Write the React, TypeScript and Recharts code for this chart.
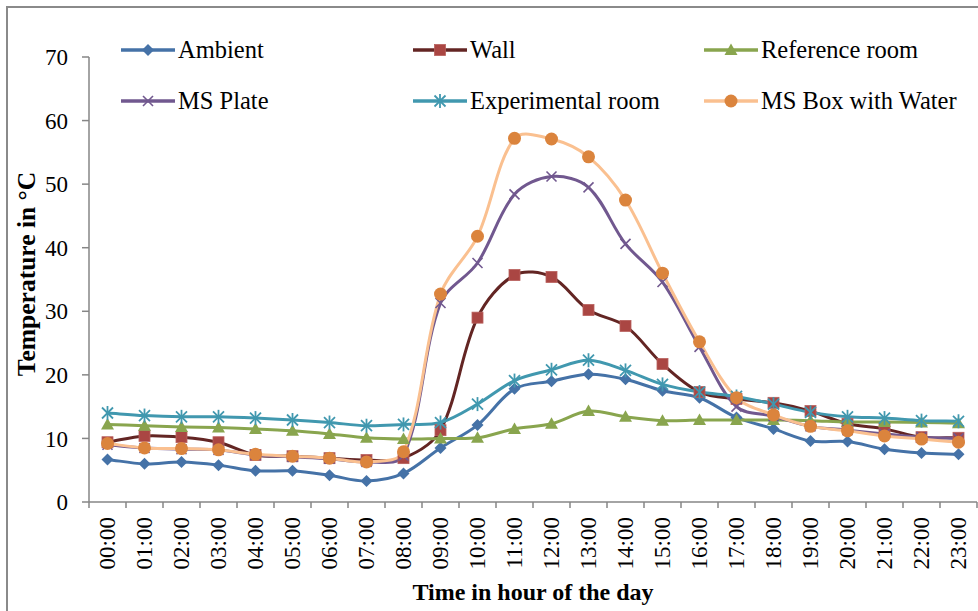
import React from "react";
import { LineChart, Line, XAxis, YAxis, Legend } from "recharts";

const hours = [
  "00:00", "01:00", "02:00", "03:00", "04:00", "05:00", "06:00", "07:00",
  "08:00", "09:00", "10:00", "11:00", "12:00", "13:00", "14:00", "15:00",
  "16:00", "17:00", "18:00", "19:00", "20:00", "21:00", "22:00", "23:00",
];
const ambient = [6.7, 6.0, 6.3, 5.8, 4.9, 4.9, 4.2, 3.3, 4.5, 8.5, 12.1, 17.8, 19.0, 20.1, 19.3, 17.5, 16.4, 13.3, 11.5, 9.6, 9.5, 8.3, 7.7, 7.5];
const wall = [9.4, 10.4, 10.2, 9.4, 7.4, 7.2, 6.9, 6.6, 6.9, 11.3, 29.0, 35.7, 35.4, 30.2, 27.7, 21.7, 17.3, 16.2, 15.6, 14.3, 12.3, 11.5, 10.2, 10.1];
const referenceRoom = [12.2, 12.0, 11.8, 11.7, 11.5, 11.2, 10.7, 10.1, 9.9, 10.0, 10.1, 11.5, 12.3, 14.3, 13.4, 12.8, 12.9, 12.9, 12.9, 12.8, 12.6, 12.6, 12.5, 12.4];
const msPlate = [9.0, 8.5, 8.3, 8.2, 7.4, 7.1, 6.8, 6.3, 7.3, 31.3, 37.6, 48.4, 51.2, 49.5, 40.6, 34.6, 24.4, 15.0, 13.5, 11.9, 11.3, 10.7, 10.2, 10.0];
const experimentalRoom = [14.0, 13.6, 13.4, 13.4, 13.2, 12.9, 12.5, 12.0, 12.2, 12.5, 15.4, 19.1, 20.8, 22.3, 20.7, 18.5, 17.3, 16.6, 15.4, 14.1, 13.4, 13.2, 12.8, 12.7];
const msBox = [9.2, 8.5, 8.4, 8.2, 7.5, 7.2, 6.9, 6.3, 7.9, 32.7, 41.8, 57.2, 57.1, 54.3, 47.5, 36.0, 25.2, 16.4, 13.7, 11.9, 11.2, 10.4, 9.9, 9.4];
const yTicks = [0, 10, 20, 30, 40, 50, 60, 70];

const data = hours.map((h, i) => ({
  hour: h,
  ambient: ambient[i],
  wall: wall[i],
  referenceRoom: referenceRoom[i],
  msPlate: msPlate[i],
  experimentalRoom: experimentalRoom[i],
  msBox: msBox[i],
}));

type Shape = "diamond" | "square" | "triangle" | "x" | "star" | "circle";

const series: { key: string; name: string; line: string; mark: string; shape: Shape }[] = [
  { key: "ambient", name: "Ambient", line: "#4572A7", mark: "#4572A7", shape: "diamond" },
  { key: "wall", name: "Wall", line: "#632523", mark: "#AA4643", shape: "square" },
  { key: "referenceRoom", name: "Reference room", line: "#89A54E", mark: "#89A54E", shape: "triangle" },
  { key: "msPlate", name: "MS Plate", line: "#71588F", mark: "#71588F", shape: "x" },
  { key: "experimentalRoom", name: "Experimental room", line: "#4198AF", mark: "#4198AF", shape: "star" },
  { key: "msBox", name: "MS Box with Water", line: "#FAC090", mark: "#DB843D", shape: "circle" },
];

const FONT = '"Liberation Serif", "Times New Roman", serif';
const HALF_BAND = 18.5;

const dist = (a: number[], b: number[]) => Math.hypot(b[0] - a[0], b[1] - a[1]) || 1;

// Excel-like smoothed line: Catmull-Rom tangents weighted by segment lengths
const excelSmooth = (context: any) => {
  let pts: number[][] = [];
  return {
    areaStart() {},
    areaEnd() {},
    lineStart() {
      pts = [];
    },
    point(x: number, y: number) {
      pts.push([+x, +y]);
    },
    lineEnd() {
      if (!pts.length) return;
      context.moveTo(pts[0][0], pts[0][1]);
      for (let i = 0; i < pts.length - 1; i++) {
        const p0 = pts[i - 1] || pts[i];
        const p1 = pts[i];
        const p2 = pts[i + 1];
        const p3 = pts[i + 2] || p2;
        const d01 = i > 0 ? dist(p0, p1) : 0;
        const d12 = dist(p1, p2);
        const d23 = i + 2 < pts.length ? dist(p2, p3) : 0;
        const a = (d12 / (d01 + d12)) / 3;
        const b = (d12 / (d12 + d23)) / 3;
        context.bezierCurveTo(
          p1[0] + (p2[0] - p0[0]) * a,
          p1[1] + (p2[1] - p0[1]) * a,
          p2[0] - (p3[0] - p1[0]) * b,
          p2[1] - (p3[1] - p1[1]) * b,
          p2[0],
          p2[1]
        );
      }
    },
  };
};

const Marker = ({ shape, color, cx, cy }: { shape: Shape; color: string; cx: number; cy: number }) => {
  switch (shape) {
    case "diamond":
      return <path d={`M${cx},${cy - 6}L${cx + 6},${cy}L${cx},${cy + 6}L${cx - 6},${cy}Z`} fill={color} />;
    case "square":
      return <rect x={cx - 5.5} y={cy - 5.5} width={11} height={11} fill={color} stroke="#B8605D" strokeWidth={0.8} />;
    case "triangle":
      return <path d={`M${cx},${cy - 6.5}L${cx + 6.5},${cy + 5}L${cx - 6.5},${cy + 5}Z`} fill={color} />;
    case "x":
      return (
        <g stroke={color} strokeWidth={1.6}>
          <line x1={cx - 5} y1={cy - 5} x2={cx + 5} y2={cy + 5} />
          <line x1={cx - 5} y1={cy + 5} x2={cx + 5} y2={cy - 5} />
        </g>
      );
    case "star":
      return (
        <g stroke={color} strokeWidth={1.8}>
          <line x1={cx - 5.5} y1={cy - 5.5} x2={cx + 5.5} y2={cy + 5.5} />
          <line x1={cx - 5.5} y1={cy + 5.5} x2={cx + 5.5} y2={cy - 5.5} />
          <line x1={cx} y1={cy - 7} x2={cx} y2={cy + 7} />
        </g>
      );
    default:
      return <circle cx={cx} cy={cy} r={6.5} fill={color} />;
  }
};

const makeDot = (shape: Shape, color: string) => (props: any) => {
  const { cx, cy, index } = props;
  if (cx == null || cy == null) return <g key={index} />;
  return (
    <g key={index}>
      <Marker shape={shape} color={color} cx={cx} cy={cy} />
    </g>
  );
};

const HourTick = (props: any) => {
  const { x, y, payload, index } = props;
  return (
    <g>
      <line x1={x - HALF_BAND} y1={y} x2={x - HALF_BAND} y2={y + 6} stroke="#868686" strokeWidth={1.5} />
      {index === hours.length - 1 && (
        <line x1={x + HALF_BAND} y1={y} x2={x + HALF_BAND} y2={y + 6} stroke="#868686" strokeWidth={1.5} />
      )}
      <text
        x={x}
        y={y + 15}
        transform={`rotate(-90 ${x} ${y + 15})`}
        textAnchor="end"
        dy="0.33em"
        fontFamily={FONT}
        fontSize={23}
        fill="#000"
      >
        {payload.value}
      </text>
    </g>
  );
};

const legendCols = [111, 403, 694];
const legendRows = [42, 93];

const renderLegend = () => (
  <div style={{ position: "relative", width: 970, height: 120 }}>
    {series.map((s, i) => {
      const left = legendCols[i % 3];
      const top = legendRows[Math.floor(i / 3)];
      return (
        <div key={s.key} style={{ position: "absolute", left, top: top - 15, height: 30, display: "flex", alignItems: "center" }}>
          <svg width={58} height={30} style={{ display: "block" }}>
            <line x1={2} y1={15} x2={56} y2={15} stroke={s.line} strokeWidth={3.5} />
            <Marker shape={s.shape} color={s.mark} cx={29} cy={15} />
          </svg>
          <span style={{ fontFamily: FONT, fontSize: 24.5, color: "#000", marginLeft: 1, lineHeight: "30px", whiteSpace: "nowrap" }}>
            {s.name}
          </span>
        </div>
      );
    })}
  </div>
);

const YTitle = () => (
  <text
    x={19}
    y={266}
    transform="rotate(-90 19 266)"
    textAnchor="middle"
    dy="0.33em"
    fontFamily={FONT}
    fontWeight="bold"
    fontSize={25.5}
    fill="#000"
  >
    Temperature in °C
  </text>
);

const XTitle = () => (
  <text x={525} y={592} textAnchor="middle" fontFamily={FONT} fontWeight="bold" fontSize={24} fill="#000">
    Time in hour of the day
  </text>
);

const App: React.FC = () => {
  return (
    <div style={{ position: "fixed", left: 0, top: 0, width: 978, height: 611, background: "#fff", overflow: "hidden" }}>
      <div
        style={{
          position: "absolute",
          left: 6,
          top: 6,
          width: 990,
          height: 620,
          borderLeft: "2px solid #8a8a8a",
          borderTop: "2px solid #8a8a8a",
        }}
      />
      <div style={{ position: "absolute", left: 8, top: 8 }}>
        <LineChart width={970} height={603} data={data} margin={{ top: 49, right: 1, left: 0, bottom: 9 }}>
          <XAxis
            dataKey="hour"
            interval={0}
            height={100}
            padding={{ left: HALF_BAND, right: HALF_BAND }}
            tickSize={0}
            tickMargin={0}
            tickLine={false}
            axisLine={{ stroke: "#868686", strokeWidth: 1.5 }}
            tick={<HourTick />}
            label={<XTitle />}
          />
          <YAxis
            domain={[0, 70]}
            ticks={yTicks}
            width={81}
            tickSize={7}
            tickMargin={14}
            axisLine={{ stroke: "#868686", strokeWidth: 1.5 }}
            tickLine={{ stroke: "#868686", strokeWidth: 1.5 }}
            tick={{ fontFamily: FONT, fontSize: 23, fill: "#000" }}
            label={<YTitle />}
          />
          <Legend
            layout="horizontal"
            verticalAlign="middle"
            align="center"
            wrapperStyle={{ left: 0, top: 0, width: 970, height: 120 }}
            content={renderLegend}
          />
          {series.map((s) => (
            <Line
              key={s.key}
              dataKey={s.key}
              name={s.name}
              type={excelSmooth as any}
              stroke={s.line}
              strokeWidth={3}
              dot={makeDot(s.shape, s.mark)}
              activeDot={false}
              isAnimationActive={false}
            />
          ))}
        </LineChart>
      </div>
    </div>
  );
};

export default App;
